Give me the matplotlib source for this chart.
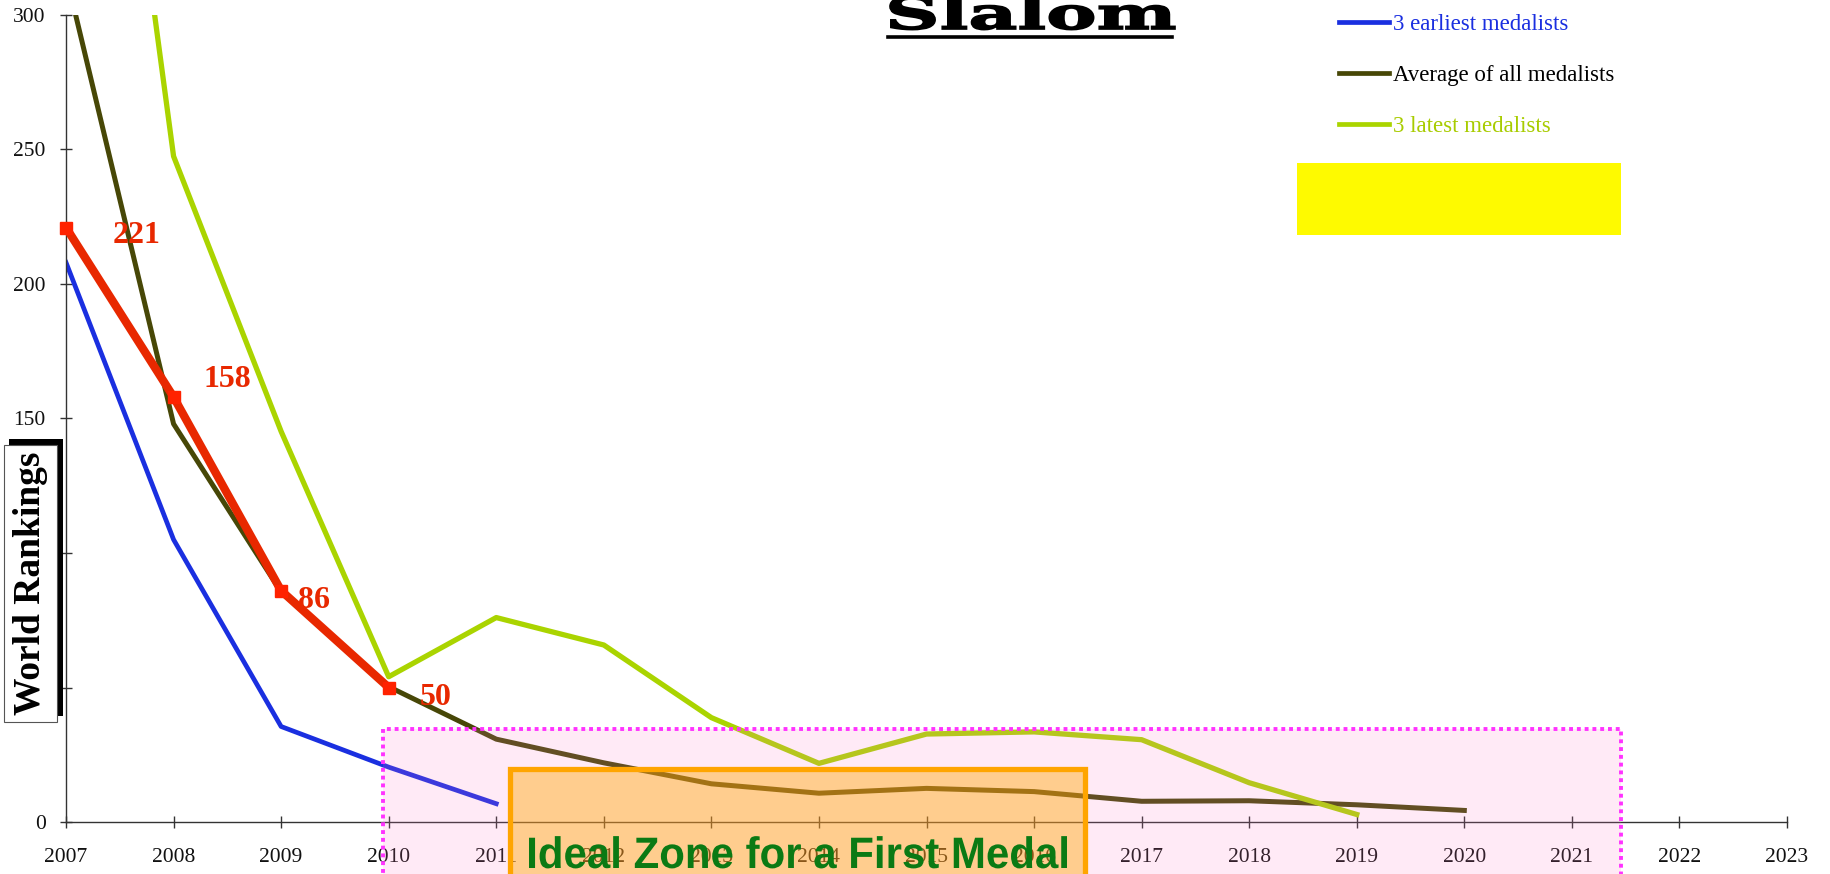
import matplotlib
matplotlib.use("Agg")
import matplotlib.pyplot as plt
from matplotlib.patches import Rectangle, PathPatch
from matplotlib.lines import Line2D
from matplotlib.textpath import TextPath
from matplotlib.font_manager import FontProperties
from matplotlib.transforms import Affine2D, IdentityTransform

plt.rcParams['font.family'] = ['Liberation Serif', 'DejaVu Serif']

# world ranking data
earliest_years = [2007, 2008, 2009, 2010, 2011]
earliest_rank = [208, 105, 35.5, 20.4, 6.8]

avg_years = list(range(2007, 2021))
avg_rank = [315, 148, 85.5, 50.3, 30.8, 22, 14.2, 10.7, 12.5, 11.3, 7.7, 7.9, 6.4, 4.3]

latest_years = list(range(2007, 2020))
latest_rank = [546, 247.5, 145.2, 54, 76, 65.8, 38.8, 21.8, 32.7, 33.5, 30.6, 14.6, 2.8]

athlete_years = [2007, 2008, 2009, 2010]
athlete_rank = [221, 158, 86, 50]

year_ticks = list(range(2007, 2024))
rank_ticks = [0, 50, 100, 150, 200, 250, 300]
rank_labels = ['0', '', '', '150', '200', '250', '300']  # 50 and 100 sit behind the label box

series_labels = ["3 earliest medalists", "Average of all medalists", "3 latest medalists"]

# zones
pink_zone = (2009.95, 2021.46, 34.7)
ideal_zone = (2011.13, 2016.47, 19.6)
yellow_box = (2018.44, 2021.46, 218.3, 244.8)

W, H = 1831, 874
fig = plt.figure(figsize=(W / 100, H / 100), dpi=100)
ax = fig.add_axes([66 / W, 1 - 822 / H, (1787 - 66) / W, (822 - 15) / H])

blue = '#1a2fe0'
olive = '#474707'
lime = '#aad400'
red = '#e82800'

l1, = ax.plot(earliest_years, earliest_rank, color=blue, lw=3.4, zorder=2)
l2, = ax.plot(avg_years, avg_rank, color=olive, lw=3.6, zorder=2.1)
l3, = ax.plot(latest_years, latest_rank, color=lime, lw=3.8, zorder=2.2)
ax.plot(athlete_years, athlete_rank, color=red, lw=6, marker='s', ms=9,
        mfc='#ff2200', mec='#ff2200', zorder=3, clip_on=False)

label_offsets = [(47, -8), (30, 17), (17, -10), (31, -10)]
for x, y, off in zip(athlete_years, athlete_rank, label_offsets):
    ax.annotate(str(y), (x, y), xytext=off, textcoords='offset pixels',
                ha='left', va='center', color='#e82800', fontsize=23,
                fontweight='bold', zorder=3.5)

ax.set_xlim(2007, 2023)
ax.set_ylim(0, 300)
ax.set_xticks(year_ticks)
ax.set_yticks(rank_ticks)
ax.set_yticklabels(rank_labels)
ax.tick_params(axis='both', direction='inout', length=9, width=1, color='#333333',
               labelsize=15.5, labelcolor='#111111')
ax.tick_params(axis='x', pad=14)
ax.tick_params(axis='y', pad=10)
for s in ['top', 'right']:
    ax.spines[s].set_visible(False)
for s in ['left', 'bottom']:
    ax.spines[s].set_color('#333333')
    ax.spines[s].set_linewidth(1)

# pink zone overlay
x0, x1, top = pink_zone
ax.add_patch(Rectangle((x0, -60), x1 - x0, top + 60, facecolor=(1, 0.47, 0.78, 0.15),
                       edgecolor='#ff33ff', lw=2.8, linestyle=(0, (1, 1)),
                       zorder=4, clip_on=False))

# ideal zone box
x0, x1, top = ideal_zone
ax.add_patch(Rectangle((x0, -60), x1 - x0, top + 60, facecolor=(1, 0.647, 0, 0.42),
                       edgecolor='#ffa500', lw=3.8, zorder=5, clip_on=False))

# condensed bold caption, squeezed like a narrow face
cap = TextPath((0, 0), "Ideal Zone for a First Medal", size=44,
               prop=FontProperties(family='Liberation Sans', weight='bold'))
cb = cap.get_extents()
ctr = Affine2D().translate(-cb.x0, 0).scale(538 / cb.width, 1).translate(529, 6)
fig.add_artist(PathPatch(cap, facecolor='#0b7a14', edgecolor='none', transform=ctr, zorder=12))

# yellow box
yx0, yx1, yy0, yy1 = yellow_box
ax.add_patch(Rectangle((yx0, yy0), yx1 - yx0, yy1 - yy0, facecolor='#fefa00',
                       edgecolor='none', zorder=2))

# legend
leg = ax.legend([l1, l2, l3], series_labels, loc='upper left',
                bbox_to_anchor=(1339 / W, 1 - 14 / H), bbox_transform=fig.transFigure,
                frameon=False, fontsize=16.5, handlelength=2.2, handletextpad=0.15,
                labelspacing=1.3, borderpad=0, borderaxespad=0)
for t, c in zip(leg.get_texts(), [blue, 'black', '#a8cc00']):
    t.set_color(c)
for h in leg.get_lines():
    h.set_linewidth(3.4)

# y axis label box with shadow
fig.add_artist(Rectangle((9, 158), 54, 277, facecolor='black', edgecolor='none',
                         transform=IdentityTransform(), zorder=10))
fig.add_artist(Rectangle((4, 152), 53, 277, facecolor='white', edgecolor='#555555',
                         lw=0.8, transform=IdentityTransform(), zorder=11))
fig.text(30.5 / W, 291 / H, "World Rankings", rotation=90, ha='center', va='center',
         fontsize=27, fontweight='bold', color='black', zorder=12)

# title
tp = TextPath((0, 0), "Slalom", size=44, prop=FontProperties(family='DejaVu Serif', weight='bold'))
bb = tp.get_extents()
sx = 285 / bb.width
tr = Affine2D().translate(-bb.x0, 0).scale(sx, 1).translate(890, H - 29)
fig.add_artist(PathPatch(tp, facecolor='black', edgecolor='black', lw=1.2, transform=tr, zorder=12))
fig.add_artist(Line2D([888, 1172], [H - 37, H - 37], color='black', lw=2.6,
                      transform=IdentityTransform(), zorder=12))

fig.savefig("out.png", dpi=100)
